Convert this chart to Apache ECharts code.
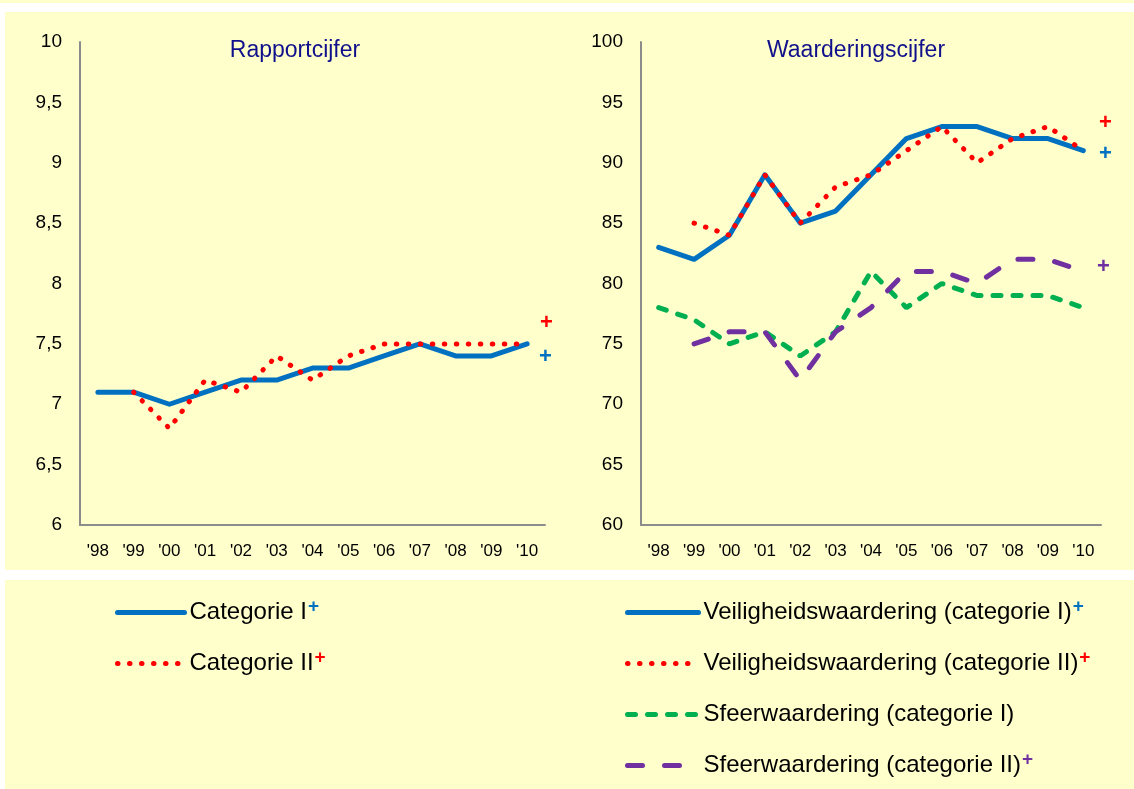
<!DOCTYPE html>
<html>
<head>
<meta charset="utf-8">
<title>Rapportcijfer / Waarderingscijfer</title>
<script src="https://cdn.jsdelivr.net/npm/echarts@6/dist/echarts.min.js"></script>
<style>
  html, body { margin: 0; padding: 0; background: #fff; }
  #chart { width: 1134px; height: 789px; }
</style>
</head>
<body>
<div id="chart"></div>
<script>
// categories
const years = ["'98", "'99", "'00", "'01", "'02", "'03", "'04", "'05", "'06", "'07", "'08", "'09", "'10"];

// left panel: rapportcijfer
const rapportCatI = [7.1, 7.1, 7.0, 7.1, 7.2, 7.2, 7.3, 7.3, 7.4, 7.5, 7.4, 7.4, 7.5];
const rapportCatII = [null, 7.1, 6.8, 7.2, 7.1, 7.4, 7.2, 7.4, 7.5, 7.5, 7.5, 7.5, 7.5];

// right panel: waarderingscijfer
const veiligCatI = [83, 82, 84, 89, 85, 86, 89, 92, 93, 93, 92, 92, 91];
const veiligCatII = [null, 85, 84, 89, 85, 88, 89, 91, 93, 90, 92, 93, 91];
const sfeerCatI = [78, 77, 75, 76, 74, 76, 81, 78, 80, 79, 79, 79, 78];
const sfeerCatII = [null, 75, 76, 76, 72, 76, 78, 81, 81, 80, 82, 82, 81];

const leftNames = ["Categorie I", "Categorie II"];
const rightNames = [
  "Veiligheidswaardering (categorie I)",
  "Veiligheidswaardering (categorie II)",
  "Sfeerwaardering (categorie I)",
  "Sfeerwaardering (categorie II)"
];
// which legend entries get a "+" and in which colour
const plusStyle = {
  "Categorie I": "pb",
  "Categorie II": "pr",
  "Veiligheidswaardering (categorie I)": "pb",
  "Veiligheidswaardering (categorie II)": "pr",
  "Sfeerwaardering (categorie II)": "pp"
};

const BLUE = "#0070C0", RED = "#FF0000", GREEN = "#00B050", PURPLE = "#7030A0";
const YELLOW = "#FFFFCC";
const FONT = "'Liberation Sans', Arial, sans-serif";

const chart = echarts.init(document.getElementById("chart"));

function catAxis(gridIndex) {
  return {
    type: "category",
    gridIndex: gridIndex,
    data: years,
    boundaryGap: true,
    axisLine: { lineStyle: { color: "#8c8c8c", width: 2 } },
    axisTick: { show: false },
    axisLabel: { color: "#000", fontSize: 17, fontFamily: FONT, margin: 18, interval: 0 }
  };
}

// superscript "+": small line height, pushed up by bottom padding
function sup(color) {
  return { fontSize: 19, lineHeight: 10, fontWeight: "bold", color: color, padding: [0, 0, 12, 1] };
}

const legendText = {
  color: "#000",
  fontSize: 24,
  fontFamily: FONT,
  rich: {
    t: { fontSize: 24, lineHeight: 22, fontFamily: FONT, color: "#000" },
    pb: sup(BLUE),
    pr: sup(RED),
    pp: sup(PURPLE),
    pn: sup("rgba(0,0,0,0)")
  }
};

// every entry gets a superscript token (invisible when there is no "+"), so rows keep equal height
function legendFormatter(name) {
  const s = plusStyle[name] || "pn";
  return "{t|" + name + "}{" + s + "|+}";
}

function plus(x, y, color) {
  return {
    type: "text", left: x - 7, top: y - 11, z: 10,
    style: { text: "+", fill: color, fontSize: 22, fontWeight: "bold", fontFamily: FONT }
  };
}

const option = {
  backgroundColor: "#fff",
  animation: false,
  graphic: [
    { type: "rect", shape: { x: 0, y: 0, width: 1134, height: 3 }, style: { fill: YELLOW }, z: -10 },
    { type: "rect", shape: { x: 5, y: 12, width: 1129, height: 558 }, style: { fill: YELLOW }, z: -10 },
    { type: "rect", shape: { x: 5, y: 580, width: 1129, height: 209 }, style: { fill: YELLOW }, z: -10 },
    plus(547, 323, RED),
    plus(546, 357, BLUE),
    plus(1106, 123, RED),
    plus(1106, 154, BLUE),
    plus(1104, 267, PURPLE)
  ],
  title: [
    {
      text: "Rapportcijfer", left: 290, top: 34, textAlign: "center",
      textStyle: { color: "#10108C", fontSize: 23, fontWeight: "normal", fontFamily: FONT }
    },
    {
      text: "Waarderingscijfer", left: 851, top: 34, textAlign: "center",
      textStyle: { color: "#10108C", fontSize: 23, fontWeight: "normal", fontFamily: FONT }
    }
  ],
  legend: [
    {
      data: leftNames, orient: "vertical", left: 115, top: 597, padding: 0,
      itemWidth: 67, itemHeight: 22, itemGap: 20, selectedMode: false,
      itemStyle: { opacity: 0 },
      lineStyle: { width: 5 },
      textStyle: legendText, formatter: legendFormatter
    },
    {
      data: rightNames, orient: "vertical", left: 625, top: 597, padding: 0,
      itemWidth: 71, itemHeight: 22, itemGap: 20, selectedMode: false,
      itemStyle: { opacity: 0 },
      lineStyle: { width: 5 },
      textStyle: legendText, formatter: legendFormatter
    }
  ],
  grid: [
    { left: 80, right: 589, top: 42, bottom: 264 },
    { left: 641, right: 33, top: 42, bottom: 264 }
  ],
  xAxis: [catAxis(0), catAxis(1)],
  yAxis: [
    {
      type: "value", gridIndex: 0, min: 6, max: 10, interval: 0.5,
      splitLine: { show: false },
      axisLine: { show: true, lineStyle: { color: "#8c8c8c", width: 2 } },
      axisTick: { show: false },
      axisLabel: {
        color: "#000", fontSize: 19, fontFamily: FONT, margin: 18,
        formatter: function (v) { return String(v).replace(".", ","); }
      }
    },
    {
      type: "value", gridIndex: 1, min: 60, max: 100, interval: 5,
      splitLine: { show: false },
      axisLine: { show: true, lineStyle: { color: "#8c8c8c", width: 2 } },
      axisTick: { show: false },
      axisLabel: { color: "#000", fontSize: 19, fontFamily: FONT, margin: 18 }
    }
  ],
  series: [
    {
      name: "Categorie I", type: "line", xAxisIndex: 0, yAxisIndex: 0,
      data: rapportCatI, symbol: "none", z: 3,
      lineStyle: { color: BLUE, width: 5, cap: "round", join: "round" },
      itemStyle: { color: BLUE }
    },
    {
      name: "Categorie II", type: "line", xAxisIndex: 0, yAxisIndex: 0,
      data: rapportCatII, symbol: "none", z: 4,
      lineStyle: { color: RED, width: 5, type: [0.5, 11.5], cap: "round" },
      itemStyle: { color: RED }
    },
    {
      name: "Veiligheidswaardering (categorie I)", type: "line", xAxisIndex: 1, yAxisIndex: 1,
      data: veiligCatI, symbol: "none", z: 3,
      lineStyle: { color: BLUE, width: 5, cap: "round", join: "round" },
      itemStyle: { color: BLUE }
    },
    {
      name: "Veiligheidswaardering (categorie II)", type: "line", xAxisIndex: 1, yAxisIndex: 1,
      data: veiligCatII, symbol: "none", z: 4,
      lineStyle: { color: RED, width: 5, type: [0.5, 11.5], cap: "round" },
      itemStyle: { color: RED }
    },
    {
      name: "Sfeerwaardering (categorie I)", type: "line", xAxisIndex: 1, yAxisIndex: 1,
      data: sfeerCatI, symbol: "none", z: 3,
      lineStyle: { color: GREEN, width: 5, type: [8, 12], cap: "round" },
      itemStyle: { color: GREEN }
    },
    {
      name: "Sfeerwaardering (categorie II)", type: "line", xAxisIndex: 1, yAxisIndex: 1,
      data: sfeerCatII, symbol: "none", z: 3,
      lineStyle: { color: PURPLE, width: 5, type: [15, 22], cap: "round" },
      itemStyle: { color: PURPLE }
    }
  ]
};

chart.setOption(option);
window.addEventListener("resize", function () {
  chart.resize();
});
</script>
</body>
</html>
